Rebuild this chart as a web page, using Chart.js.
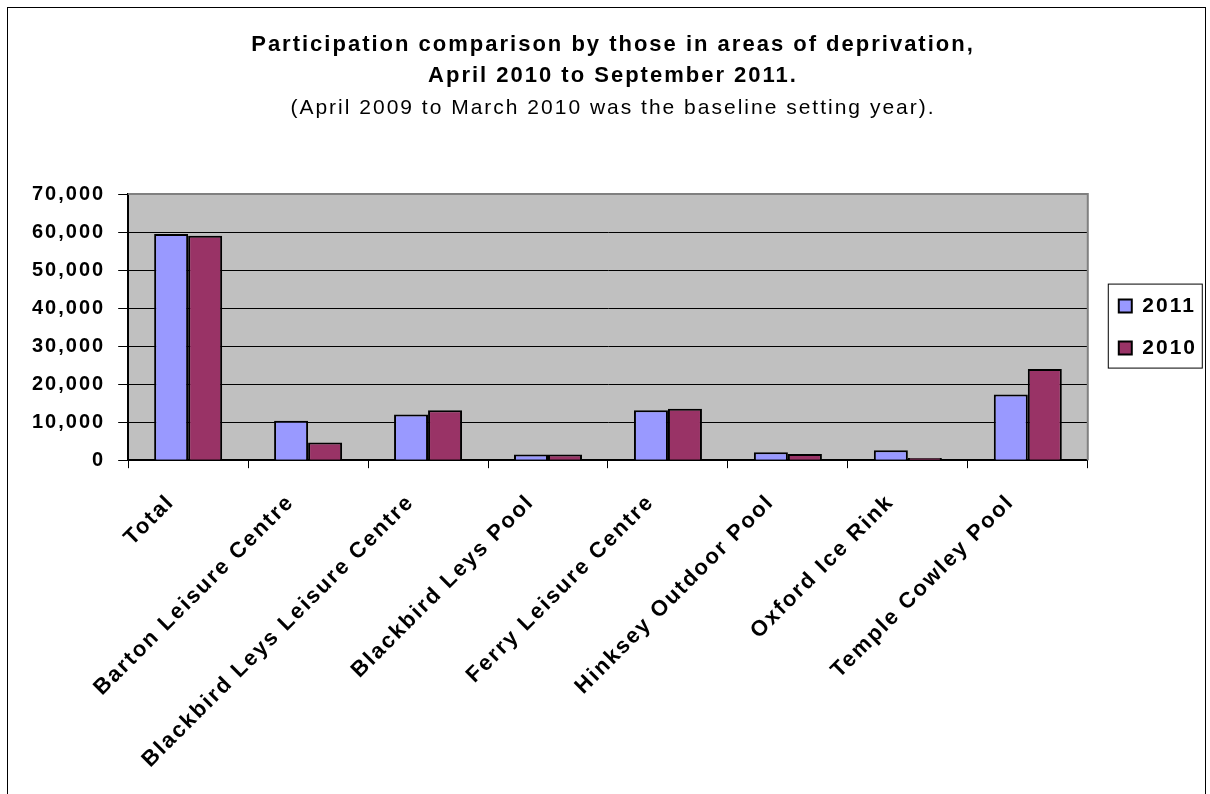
<!DOCTYPE html>
<html>
<head>
<meta charset="utf-8">
<script src="https://cdn.jsdelivr.net/npm/chart.js@4.4.1/dist/chart.umd.min.js"></script>
<style>
  html, body { margin: 0; padding: 0; background: #fff; }
  #wrap { position: relative; width: 1210px; height: 794px; overflow: hidden; }
  #frame { position: absolute; left: 7px; top: 7px; width: 1197px; height: 900px; border: 1px solid #000; }
  #chart { position: absolute; left: 0; top: 0; }
</style>
</head>
<body>
<div id="wrap">
  <div id="frame"></div>
  <canvas id="chart" width="1210" height="794"></canvas>
</div>
<script>
// kategorier och värden
const venues = [
  'Total',
  'Barton Leisure Centre',
  'Blackbird Leys Leisure Centre',
  'Blackbird Leys Pool',
  'Ferry Leisure Centre',
  'Hinksey Outdoor Pool',
  'Oxford Ice Rink',
  'Temple Cowley Pool'
];
const values2011 = [59500, 10400, 12000, 1500, 13100, 2100, 2600, 17300];
const values2010 = [59000, 4650, 13100, 1500, 13500, 1600, 600, 23950];
const seriesNames = ['2011', '2010'];
const yTicks = [0, 10000, 20000, 30000, 40000, 50000, 60000, 70000];

const FONT = 'Arial, "Liberation Sans", sans-serif';

// Excel-texten har bredare teckenavstånd
const spacing = {
  id: 'spacing',
  beforeInit(chart) { chart.ctx.letterSpacing = '2px'; },
  beforeUpdate(chart) { chart.ctx.letterSpacing = '2px'; },
  beforeDraw(chart) { chart.ctx.letterSpacing = '2px'; }
};

// grå bakgrund i diagramytan och grå ram upptill/höger
const plotBg = {
  id: 'plotBg',
  beforeDraw(chart) {
    const { ctx, chartArea: a } = chart;
    ctx.save();
    ctx.fillStyle = '#c0c0c0';
    ctx.fillRect(a.left, a.top, a.right - a.left, a.bottom - a.top);
    ctx.restore();
  },
  afterDatasetsDraw(chart) {
    const { ctx, chartArea: a } = chart;
    ctx.save();
    ctx.strokeStyle = '#808080';
    ctx.lineWidth = 2;
    ctx.beginPath();
    ctx.moveTo(a.left, a.top);
    ctx.lineTo(a.right, a.top);
    ctx.lineTo(a.right, a.bottom);
    ctx.stroke();
    ctx.restore();
  }
};

// ram runt förklaringens poster
const legendBox = {
  id: 'legendBox',
  afterDraw(chart) {
    const hb = chart.legend.legendHitBoxes;
    if (!hb || !hb.length) return;
    const ctx = chart.ctx;
    const first = hb[0], last = hb[hb.length - 1];
    const left = first.left - 11;
    const top = first.top - 12;
    const bottom = last.top + last.height + 9;
    ctx.save();
    ctx.strokeStyle = '#000';
    ctx.lineWidth = 1;
    ctx.strokeRect(left + 0.5, top + 0.5, 94, bottom - top);
    ctx.restore();
  }
};

new Chart(document.getElementById('chart'), {
  type: 'bar',
  data: {
    labels: venues,
    datasets: [{
      label: seriesNames[0],
      data: values2011,
      backgroundColor: '#9999ff',
      borderColor: '#000',
      borderWidth: 2,
      borderSkipped: 'bottom'
    }, {
      label: seriesNames[1],
      data: values2010,
      backgroundColor: '#993366',
      borderColor: '#000',
      borderWidth: 2,
      borderSkipped: 'bottom'
    }]
  },
  options: {
    responsive: false,
    animation: false,
    datasets: { bar: { categoryPercentage: 0.567, barPercentage: 1.0 } },
    layout: { padding: { left: 19, right: 3, top: 0, bottom: 17 } },
    plugins: {
      title: {
        display: true,
        text: ['Participation comparison by those in areas of deprivation,', 'April 2010 to September 2011.'],
        color: '#000',
        font: { family: FONT, size: 22, weight: 'bold', lineHeight: 1.4 },
        padding: { top: 30, bottom: 0 }
      },
      subtitle: {
        display: true,
        text: '(April 2009 to March 2010 was the baseline setting year).',
        color: '#000',
        font: { family: FONT, size: 21, weight: 'normal', lineHeight: 1.4 },
        padding: { top: 2, bottom: 71 }
      },
      legend: {
        position: 'right',
        fullSize: false,
        labels: {
          color: '#000',
          font: { family: FONT, size: 21, weight: 'bold' },
          boxWidth: 13,
          boxHeight: 13,
          padding: 21,
          useBorderRadius: false
        }
      },
      tooltip: { enabled: false }
    },
    scales: {
      x: {
        grid: { offset: true, drawOnChartArea: false, drawTicks: true, tickLength: 8, color: '#000' },
        border: { color: '#000', width: 2 },
        ticks: {
          color: '#000',
          font: { family: FONT, size: 22, weight: 'bold' },
          maxRotation: 45,
          minRotation: 45,
          autoSkip: false,
          padding: 4,
          // avslutande mellanslag flyttar etikettens slut åt vänster som i Excel
          callback: (value, index) => venues[index] + '   '
        }
      },
      y: {
        min: 0,
        max: 70000,
        afterBuildTicks(scale) { scale.ticks = yTicks.map(v => ({ value: v })); },
        grid: { color: '#000', lineWidth: 1, tickLength: 10 },
        border: { color: '#000', width: 2 },
        ticks: {
          color: '#000',
          font: { family: FONT, size: 20, weight: 'bold' },
          padding: 13,
          callback: v => v.toLocaleString('en-GB')
        }
      },
      // tom axel som ger mellanrum mellan diagramytan och förklaringen
      gap: {
        type: 'linear',
        position: 'right',
        display: true,
        grid: { display: false },
        border: { display: false },
        ticks: { display: false },
        afterFit(scale) { scale.width = 10; }
      }
    }
  },
  plugins: [spacing, plotBg, legendBox]
});
</script>
</body>
</html>
